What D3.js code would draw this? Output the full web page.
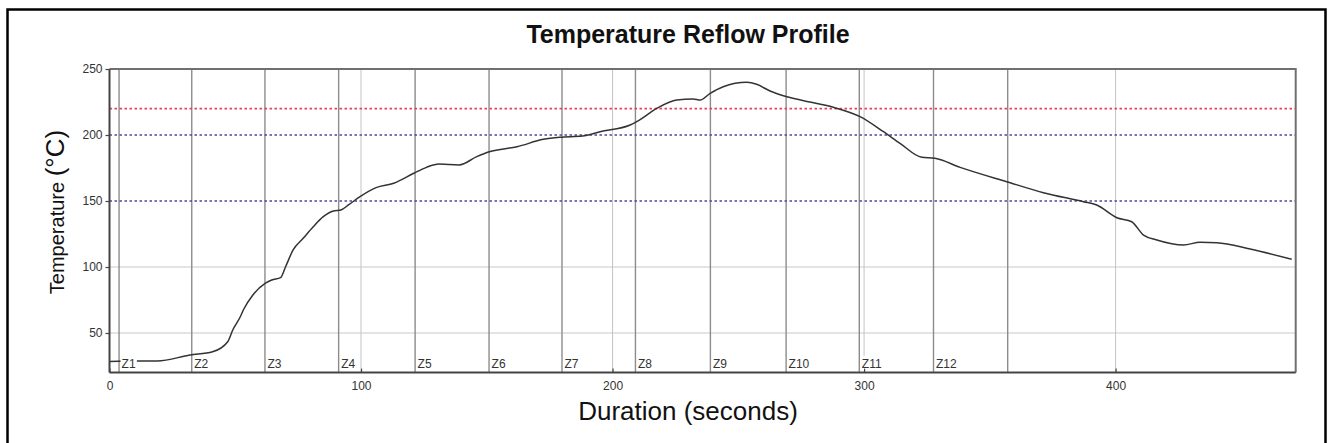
<!DOCTYPE html>
<html>
<head>
<meta charset="utf-8">
<script src="https://cdn.jsdelivr.net/npm/d3@7"></script>
<style>
html,body{margin:0;padding:0;background:#fff;}
svg{display:block;font-family:"Liberation Sans",Arial,sans-serif;}
</style>
</head>
<body>
<svg id="chart" width="1328" height="443"></svg>
<script>
// ---- data ----
const seconds = [0, 11, 19, 32, 41, 47, 49, 52, 53.2, 57, 62, 64.5, 68, 70, 73, 77, 81, 85, 89, 92, 95, 99.6, 106, 113, 121, 126, 131, 139, 146, 151, 162, 172.5, 179, 188, 195, 207, 209.6, 217.6, 225.5, 232, 234.8, 238.8, 244, 253.4, 257.3, 262.6, 269.3, 276, 287.8, 298.4, 307.7, 314.3, 322.9, 328.2, 338.2, 356.7, 371.3, 387.2, 392.5, 400.5, 406.4, 411.1, 416.4, 427, 433.6, 440.2, 453.5, 470];
const temperature = [28.5, 28.8, 28.8, 33.3, 35.8, 43.4, 52.3, 62.3, 67.4, 78.8, 87.7, 90.2, 91.9, 100.2, 112.9, 121.7, 130.5, 138.1, 142.4, 143.2, 147, 153.3, 160.1, 163.4, 171, 175.5, 178, 177.3, 183.6, 187.3, 191.1, 196.7, 198.3, 199.2, 202.5, 207.6, 210.1, 220.2, 226.5, 227.3, 226.5, 231.6, 236.6, 239.9, 238.4, 233.3, 229, 226, 221, 213.9, 202.5, 193.7, 183.1, 182.3, 175.5, 164.6, 156.3, 149.5, 147, 137.3, 134.3, 124.2, 120.5, 116.7, 118.7, 118.4, 113.6, 105.8];
const zoneBoundaries = [3.8, 32.7, 61.8, 91.1, 121.5, 150.9, 179.9, 209.1, 238.9, 269, 298.1, 327.6, 357.1];
const zoneLabels = ["Z1","Z2","Z3","Z4","Z5","Z6","Z7","Z8","Z9","Z10","Z11","Z12"];
const xTicks = [0, 100, 200, 300, 400];
const yTicks = [50, 100, 150, 200, 250];
const yGrid = [50, 100];
const thresholds = [220, 200, 150];
const thresholdColors = ["#e8405a", "#4a4a9a", "#4a4a9a"];
const xDomain = [0, 471.6];
const yDomain = [20, 250];
const titleText = "Temperature Reflow Profile";
const xLabel = "Duration (seconds)";
const yLabel = "Temperature";
const yUnit = "(°C)";

// ---- layout ----
const svg = d3.select("#chart");
const L = 109.5, R = 1295.7, T = 69, B = 372.6;
const x = d3.scaleLinear().domain(xDomain).range([L, R]);
const y = d3.scaleLinear().domain(yDomain).range([B, T]);

// outer frame
svg.append("rect").attr("x", 7.5).attr("y", 9.5).attr("width", 1318).attr("height", 460)
  .attr("fill", "none").attr("stroke", "#000").attr("stroke-width", 2.5);

// title
svg.append("text").attr("x", 688).attr("y", 43).attr("text-anchor", "middle")
  .attr("font-size", 25).attr("font-weight", "bold").attr("fill", "#111").text(titleText);

// grid
const g = svg.append("g");
g.selectAll(".vg").data(xTicks.filter(d => d > 0)).join("line")
  .attr("x1", d => x(d)).attr("x2", d => x(d)).attr("y1", T).attr("y2", B)
  .attr("stroke", "#c4c4c4").attr("stroke-width", 1);
g.selectAll(".hg").data(yGrid).join("line")
  .attr("x1", L).attr("x2", R).attr("y1", d => y(d)).attr("y2", d => y(d))
  .attr("stroke", "#c8c8c8").attr("stroke-width", 1);

// zone lines
g.selectAll(".zl").data(zoneBoundaries).join("line")
  .attr("x1", d => x(d)).attr("x2", d => x(d)).attr("y1", T).attr("y2", B)
  .attr("stroke", "#8c8c8c").attr("stroke-width", 1.4);

// threshold lines
g.selectAll(".th").data(thresholds).join("line")
  .attr("x1", L).attr("x2", R).attr("y1", d => y(d)).attr("y2", d => y(d))
  .attr("stroke", (d, i) => thresholdColors[i]).attr("stroke-width", 1.6)
  .attr("stroke-dasharray", "2.5,2.5");

// curve
const pts = seconds.map((s, i) => [s, temperature[i]]);
svg.append("path").datum(pts)
  .attr("d", d3.line().x(d => x(d[0])).y(d => y(d[1])).curve(d3.curveMonotoneX))
  .attr("fill", "none").attr("stroke", "#333").attr("stroke-width", 1.5);

// zone labels with white background
const zl = svg.append("g").attr("font-size", 12).attr("fill", "#333");
zoneLabels.forEach((lab, i) => {
  const xx = x(zoneBoundaries[i]) + 1.5;
  const t = zl.append("text").attr("x", xx + 1).attr("y", 368).text(lab);
  const bb = t.node().getBBox();
  zl.insert("rect", "text").attr("x", xx).attr("y", bb.y - 1).attr("width", bb.width + 2).attr("height", bb.height + 1)
    .attr("fill", "#fff");
});

// frame top/right
svg.append("path").attr("d", `M${L},${T}H${R}V${B}`).attr("fill", "none")
  .attr("stroke", "#707070").attr("stroke-width", 2);

// axes
const xAxis = d3.axisBottom(x).tickValues(xTicks).tickSize(-4).tickPadding(9).tickFormat(d3.format("d"));
const xg = svg.append("g").attr("transform", `translate(0,${B})`).call(xAxis);
const yAxis = d3.axisLeft(y).tickValues(yTicks).tickSize(4).tickPadding(3).tickFormat(d3.format("d"));
const yg = svg.append("g").attr("transform", `translate(${L},0)`).call(yAxis);
[xg, yg].forEach(a => {
  a.select(".domain").attr("stroke", "#444").attr("stroke-width", 2);
  a.selectAll(".tick line").attr("stroke", "#444").attr("stroke-width", 1.2);
  a.selectAll(".tick text").attr("font-size", 12).attr("fill", "#333")
    .attr("font-family", '"Liberation Sans",Arial,sans-serif');
});
xg.select(".domain").attr("d", `M${L},0H${R}`);
yg.select(".domain").attr("d", `M0,${B}V${T}`);

// axis titles
svg.append("text").attr("x", 688).attr("y", 420).attr("text-anchor", "middle")
  .attr("font-size", 26).attr("fill", "#111").text(xLabel);
const yt = svg.append("text").attr("transform", "translate(64,212) rotate(-90)")
  .attr("text-anchor", "middle").attr("fill", "#111");
yt.append("tspan").attr("font-size", 20).text(yLabel + " ");
yt.append("tspan").attr("font-size", 26).text(yUnit);
</script>
</body>
</html>
